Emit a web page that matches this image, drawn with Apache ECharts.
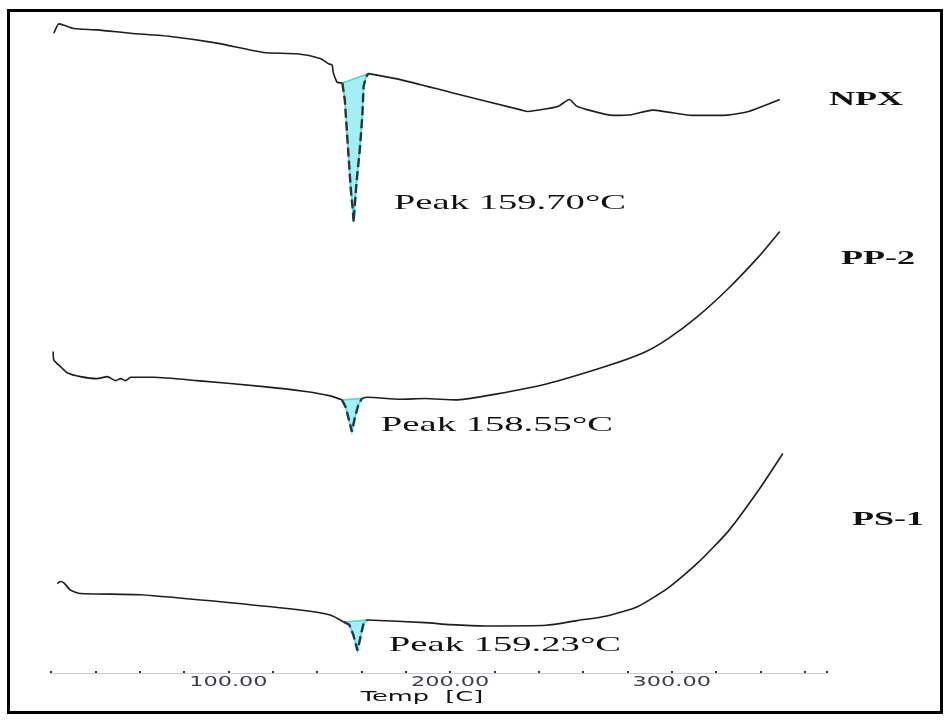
<!DOCTYPE html>
<html>
<head>
<meta charset="utf-8">
<title>DSC thermograms</title>
<script src="https://cdn.jsdelivr.net/npm/echarts@6.0.0/dist/echarts.min.js"></script>
<style>
  html, body { margin: 0; padding: 0; background: #fff; }
  #chart { width: 952px; height: 720px; }
</style>
</head>
<body>
<div id="chart"></div>
<script>
// temperature in deg C, heat flow in arbitrary units (traces offset vertically)
const npxTemp = [21.3, 23.6, 25.8, 30.3, 40.8, 55.9, 73.9, 94.9, 115.9, 130.9, 141.4, 145.2, 146.8, 147.3, 148.2, 149.1,
  151.4, 152.5, 153.8, 155.2, 156.2, 156.5, 156.8, 157.8, 159.3, 160.4, 161.0, 162.0, 163.1,
  177.5, 200.0, 232.4, 235.0, 243.4, 248.9, 253.8, 257.1, 262.6, 273.5, 281.7, 291.3, 298.2, 309.0, 322.7, 333.7, 348.7];
const npxFlow = [96.5, 97.9, 97.7, 97.2, 97.0, 96.5, 96.0, 95.0, 93.6, 93.4, 92.7, 91.9, 91.7, 90.6, 89.7, 89.1,
  89.0, 86.5, 80.0, 73.0, 69.5, 68.0, 69.5, 74.0, 79.0, 84.0, 88.5, 89.8, 90.4,
  89.5, 87.6, 84.9, 84.7, 85.1, 85.5, 86.5, 85.5, 84.9, 84.1, 84.2, 84.9, 84.6, 84.1, 84.1, 84.6, 86.5];

const ppTemp = [21.0, 21.3, 24.3, 27.3, 33.3, 40.8, 45.4, 49.1, 51.4, 53.6, 55.9, 66.4, 85.9, 115.9, 134.0, 146.0,
  151.2, 152.8, 154.0, 155.7, 157.2, 158.6, 160.2,
  162.5, 177.5, 188.7, 202.4, 216.0, 243.4, 270.7, 287.2, 298.2, 311.7, 325.5, 339.2, 348.7];
const ppFlow = [48.5, 47.2, 46.2, 45.3, 44.7, 44.4, 44.7, 44.1, 44.4, 44.1, 44.6, 44.6, 44.1, 43.2, 42.5, 41.8,
  41.2, 40.2, 38.7, 36.4, 38.7, 40.4, 41.4,
  41.6, 41.3, 41.4, 41.2, 41.8, 43.6, 46.3, 48.3, 50.4, 53.8, 58.0, 62.8, 66.6];

const psTemp = [22.8, 24.3, 25.8, 28.8, 33.3, 60.4, 100.9, 132.4, 145.9,
  152.0, 154.5, 156.3, 157.6, 158.2, 158.8, 159.8, 161.0, 162.6,
  188.7, 200.0, 216.0, 243.4, 257.1, 270.7, 284.5, 298.2, 311.7, 325.5, 339.2, 350.1];
const psFlow = [13.5, 13.8, 13.6, 12.5, 12.0, 11.8, 10.6, 9.5, 8.75,
  7.7, 7.3, 5.8, 4.2, 3.4, 4.2, 5.8, 7.5, 8.0,
  7.6, 7.3, 7.1, 7.2, 7.9, 8.6, 10.0, 12.8, 16.6, 21.4, 27.6, 33.1];

// melting peak limits (integration range)
const peakFrom = [151.4, 151.2, 152.0];
const peakTo = [163.1, 160.2, 162.6];
const sampleNames = ['NPX', 'PP-2', 'PS-1'];
const peakLabels = ['Peak 159.70\u00b0C', 'Peak 158.55\u00b0C', 'Peak 159.23\u00b0C'];
const tickValues = [100, 200, 300];

const traces = [
  npxTemp.map((t, i) => [t, npxFlow[i]]),
  ppTemp.map((t, i) => [t, ppFlow[i]]),
  psTemp.map((t, i) => [t, psFlow[i]])
];

const series = [];
traces.forEach((pts, k) => {
  const pre = pts.filter(p => p[0] <= peakFrom[k]);
  const peak = pts.filter(p => p[0] >= peakFrom[k] && p[0] <= peakTo[k]);
  const post = pts.filter(p => p[0] >= peakTo[k]);

  // cyan peak area between curve and baseline
  series.push({
    type: 'custom',
    name: sampleNames[k] + ' area',
    silent: true,
    z: 2,
    data: [peak[0]],
    renderItem: (params, api) => ({
      type: 'polygon',
      shape: { points: peak.map(p => api.coord(p)) },
      style: { fill: '#a4eef4', stroke: '#3edde9', lineWidth: 1.6 }
    })
  });
  [pre, post].forEach(seg => {
    series.push({
      type: 'line',
      name: sampleNames[k],
      data: seg,
      symbol: 'none',
      smooth: 0.2,
      silent: true,
      z: 3,
      lineStyle: { color: '#1e1e1e', width: 1.6 }
    });
  });
  series.push({
    type: 'line',
    name: sampleNames[k] + ' peak',
    data: peak,
    symbol: 'none',
    silent: true,
    z: 4,
    lineStyle: { color: '#2b3438', width: 2.4, type: [9, 4] }
  });
});

// tick labels, stretched like the original scan
series.push({
  type: 'custom',
  name: 'ticks',
  silent: true,
  z: 5,
  data: tickValues.map(v => [v, 0]),
  renderItem: (params, api) => {
    const p = api.coord([api.value(0), 0]);
    return {
      type: 'text',
      x: p[0],
      y: p[1] + 9,
      scaleX: 1.6,
      style: {
        text: api.value(0).toFixed(2),
        font: '14px "DejaVu Sans"',
        fill: '#3c3c4c',
        align: 'center',
        verticalAlign: 'middle'
      }
    };
  }
});

function stretchedText(text, x, y, font, sx) {
  return {
    type: 'text',
    x: x,
    y: y,
    scaleX: sx,
    style: { text: text, font: font, fill: '#111', align: 'center', verticalAlign: 'middle' }
  };
}

const chart = echarts.init(document.getElementById('chart'));
chart.setOption({
  animation: false,
  backgroundColor: '#fff',
  grid: { left: 51, right: 125, top: 10, bottom: 47 },
  xAxis: {
    type: 'value',
    min: 20,
    max: 370,
    interval: 20,
    axisLine: { lineStyle: { color: '#cccccc', width: 1 } },
    axisTick: { show: true, inside: true, length: 2, lineStyle: { color: '#333', width: 2 } },
    axisLabel: { show: false },
    splitLine: { show: false }
  },
  yAxis: {
    type: 'value',
    min: 0,
    max: 100,
    show: false
  },
  graphic: [
    {
      type: 'rect',
      shape: { x: 8.5, y: 10.5, width: 933, height: 702 },
      style: { fill: 'none', stroke: '#000', lineWidth: 3 },
      silent: true
    },
    stretchedText(sampleNames[0], 866, 100, 'bold 19px "Liberation Serif"', 1.9),
    stretchedText(sampleNames[1], 878, 259, 'bold 19px "Liberation Serif"', 1.9),
    stretchedText(sampleNames[2], 888, 520, 'bold 19px "Liberation Serif"', 1.9),
    stretchedText(peakLabels[0], 510, 203, '21px "Liberation Serif"', 1.84),
    stretchedText(peakLabels[1], 497, 425, '21px "Liberation Serif"', 1.84),
    stretchedText(peakLabels[2], 505, 645, '21px "Liberation Serif"', 1.84),
    stretchedText('Temp  [C]', 422, 697, '14px "DejaVu Sans"', 1.83)
  ],
  series: series
});
</script>
</body>
</html>
